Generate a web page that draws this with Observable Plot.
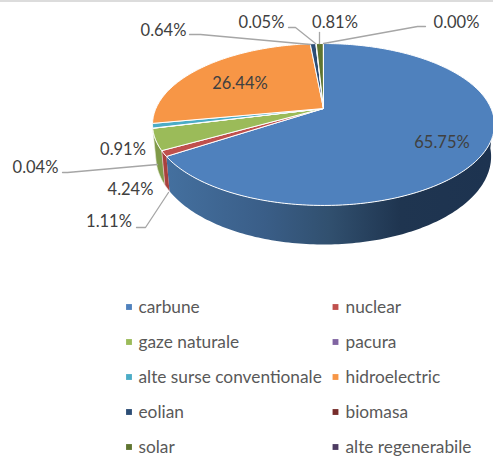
<!DOCTYPE html>
<html>
<head>
<meta charset="utf-8">
<script src="https://cdn.jsdelivr.net/npm/d3@7"></script>
<script src="https://cdn.jsdelivr.net/npm/@observablehq/plot@0.6"></script>
<style>
html,body{margin:0;padding:0;background:#fff;overflow:hidden}
svg{display:block}
</style>
</head>
<body>
<div id="chart"></div>
<script>
const categories = ["carbune","nuclear","gaze naturale","pacura","alte surse conventionale","hidroelectric","eolian","biomasa","solar","alte regenerabile"];
const shares = [65.75,1.11,4.24,0.04,0.91,26.44,0.64,0.05,0.81,0.00];
const colors = ["#4f81bd","#c0504d","#9bbb59","#8064a2","#4bacc6","#f79646","#2c4d75","#772c2a","#5f7530","#4d3b62"];

// Layout of the tilted disc (perspective: the near rim is larger than the far rim)
const W = 493, H = 456;
const persp = 0.1975;
const topFace = {cx:323, cy:108, rx:167.6, ry:77.8};
const baseFace = {cx:323, cy:138.6, rx:164.3, ry:84.6};
const project = (f, deg) => {
  const a = deg * Math.PI / 180, u = Math.sin(a), v = Math.cos(a), d = 1 + persp * v;
  return {x: f.cx + f.rx * u / d, y: f.cy - f.ry * v / d};
};
const range = (a0, a1) => {
  const n = Math.max(1, Math.ceil((a1 - a0) / 1));
  return d3.range(n + 1).map(i => a0 + (a1 - a0) * i / n);
};

// Slice angles from the shares, clockwise from 12 o'clock
let acc = 0;
const slices = categories.map((category, i) => {
  const start = acc * 3.6; acc += shares[i];
  return {category, start, end: acc * 3.6};
});

const topPts = slices.flatMap(s => [
  {category:s.category, x:topFace.cx, y:topFace.cy},
  ...range(s.start, s.end).map(a => ({category:s.category, ...project(topFace, a)})),
  {category:s.category, x:topFace.cx, y:topFace.cy}
]);

const wall = (name, a0, a1) => [
  ...range(a0, a1).map(a => ({name, ...project(topFace, a)})),
  ...range(a0, a1).reverse().map(a => ({name, ...project(baseFace, a)}))
];
const visibleStart = 96, visibleEnd = 258;
const wallCarbune = wall("carbune", visibleStart, slices[0].end);
const wallNuclear = wall("nuclear", slices[1].start, slices[1].end);
const wallGaze = wall("gaze", slices[2].start, Math.min(slices[2].end, visibleEnd));

// Outside and inside value labels
const labelOrder = [0,1,2,3,4,5,6,7,8,9];
const labelX = [441.5,108.5,130,35,122.5,239.5,163,261,334.5,456];
const labelY = [142,221,189,167,149,83,30,22,22,22];
const labels = labelOrder.map(i => ({t: shares[i].toFixed(2) + "%", x: labelX[i], y: labelY[i]}));

const leaders = [
  [[189,34],[200,34],[310,44]],
  [[288,27],[295,27],[315,43]],
  [[319,32],[319,43]],
  [[425,26],[417,26],[323,43]],
  [[62,172],[67,172],[157,164]],
  [[136,227],[145,227],[168,192]]
].flatMap((l, id) => l.map(([x, y]) => ({id, x, y})));

const legend = categories.map((category, i) => ({
  category,
  sx: i % 2 ? 335 : 128.5,
  tx: i % 2 ? 345 : 138,
  y: 306.5 + 35 * Math.floor(i / 2)
}));

const wallGradient = () => {
  const NS = "http://www.w3.org/2000/svg";
  const defs = document.createElementNS(NS, "defs");
  const g = document.createElementNS(NS, "linearGradient");
  g.setAttribute("id", "wallGrad");
  g.setAttribute("gradientUnits", "userSpaceOnUse");
  g.setAttribute("x1", 166); g.setAttribute("x2", 490);
  g.setAttribute("y1", 0); g.setAttribute("y2", 0);
  [[0,"#44709f"],[0.3,"#3a5e88"],[0.5,"#31506f"],[0.72,"#1f3550"],[1,"#1d3350"]].forEach(([o,c]) => {
    const s = document.createElementNS(NS, "stop");
    s.setAttribute("offset", o); s.setAttribute("stop-color", c);
    g.appendChild(s);
  });
  defs.appendChild(g);
  return defs;
};

const font = "Lato, 'Open Sans', sans-serif";
const chart = Plot.plot({
  width: W, height: H,
  margin: 0,
  x: {domain:[0,W], range:[0,W], axis:null},
  y: {domain:[0,H], range:[0,H], axis:null},
  color: {domain:categories, range:colors},
  style: {background:"#fff", fontFamily:font},
  marks: [
    wallGradient,
    Plot.ruleY([0.5], {stroke:"#dcdcdc", strokeWidth:2}),
    Plot.line(wallCarbune, {x:"x", y:"y", fill:"url(#wallGrad)", stroke:"none"}),
    Plot.line(wallGaze, {x:"x", y:"y", fill:"#7f9a49", stroke:"#e8ecd8", strokeWidth:0.6}),
    Plot.line(wallNuclear, {x:"x", y:"y", fill:"#a8403d", stroke:"#f0dede", strokeWidth:0.6}),
    Plot.line(topPts, {x:"x", y:"y", z:"category", fill:"category", stroke:"#fff", strokeWidth:1, strokeLinejoin:"round"}),
    Plot.line(leaders, {x:"x", y:"y", z:"id", stroke:"#a6a6a6", strokeWidth:1.3}),
    Plot.text(labels, {x:"x", y:"y", text:"t", fontSize:16.5, fill:"#404040", textAnchor:"middle"}),
    Plot.dot(legend, {x:"sx", y:"y", fill:"category", symbol:"square", r:3.3}),
    Plot.text(legend, {x:"tx", y:"y", text:"category", fontSize:17.3, fill:"#595959", textAnchor:"start"})
  ]
});
document.getElementById("chart").appendChild(chart);
</script>
</body>
</html>
